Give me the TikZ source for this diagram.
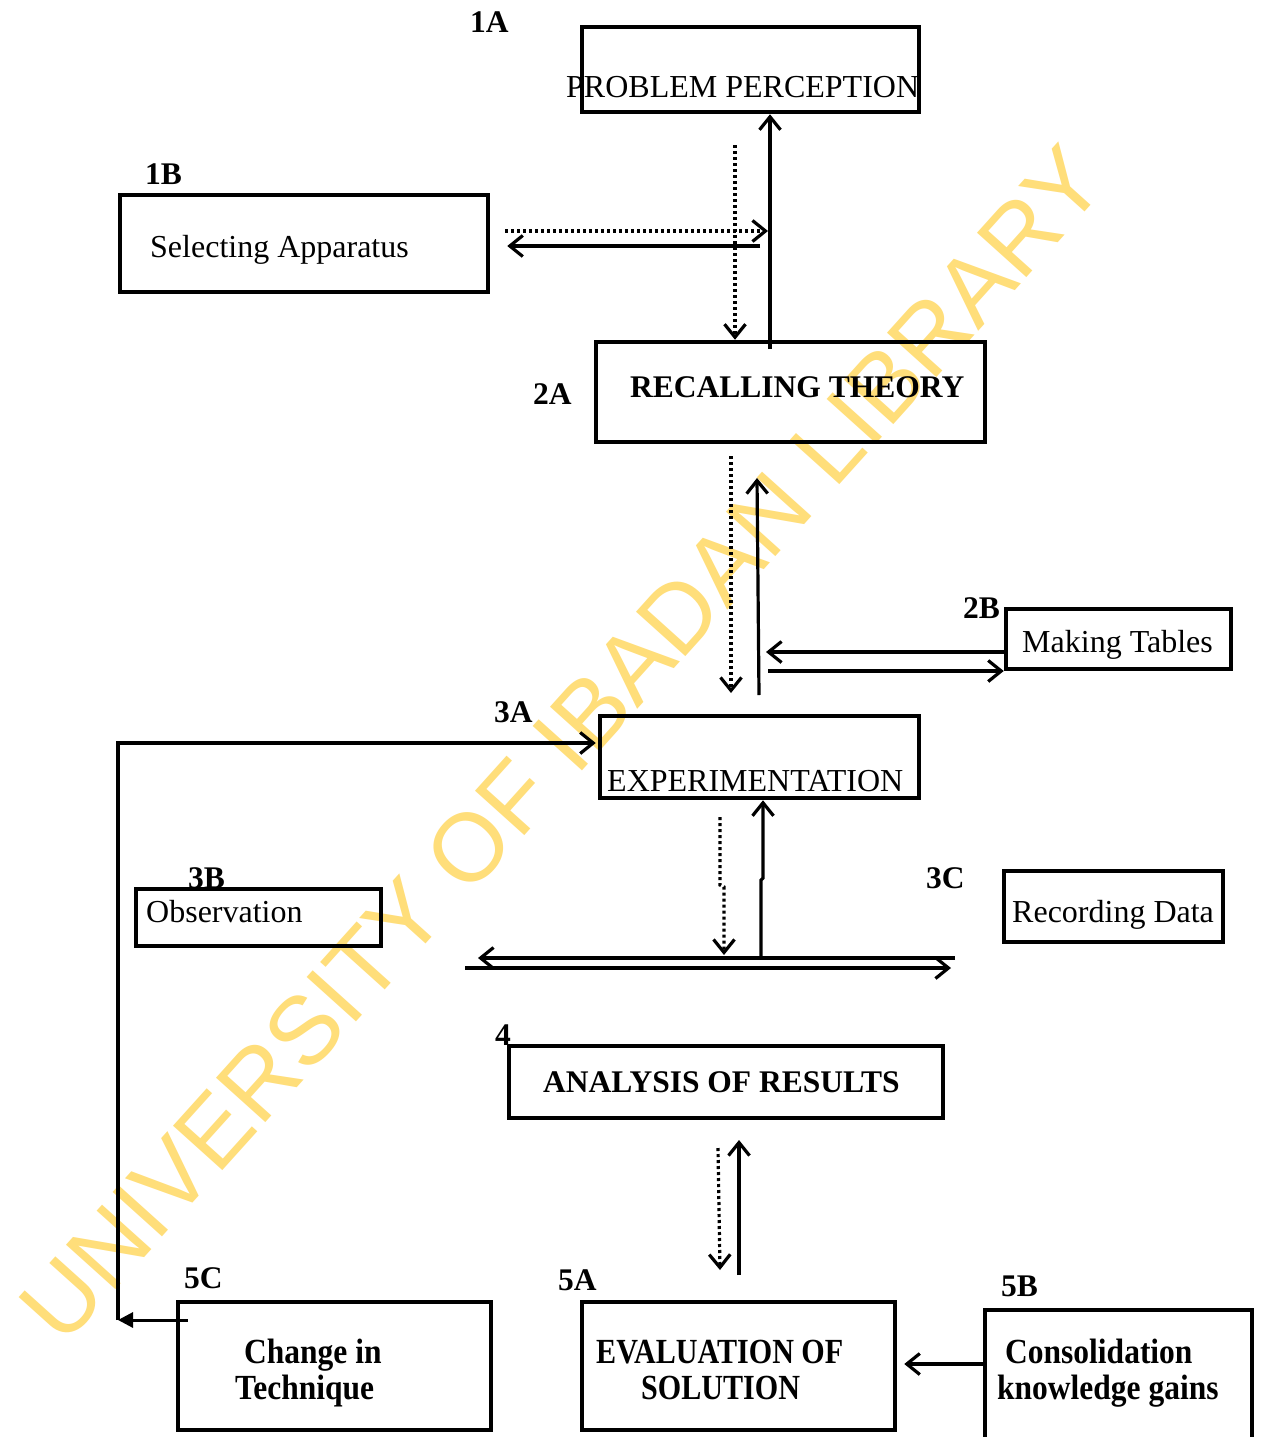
\documentclass[tikz,border=0pt]{standalone}
\usepackage{fontspec}
\usepackage{graphicx}
\setmainfont{Liberation Serif}
\newfontfamily\wmfont{Liberation Sans}
\usetikzlibrary{arrows.meta,calc}
\definecolor{wmcol}{RGB}{255,222,122}
\tikzset{
  box/.style={draw, line width=4.5pt, inner sep=0pt, rectangle},
  txt/.style={inner sep=0pt, anchor=base west, font=\fontsize{32}{38}\selectfont},
  btxt/.style={inner sep=0pt, anchor=base west, font=\fontsize{31.5}{38}\selectfont\bfseries},
  arr/.style={line width=3.2pt, -{Straight Barb[length=13pt,width=21pt]}},
  dotarr/.style={arr, dash pattern=on 3pt off 3pt},
  tri/.style={line width=3pt, -{Triangle[length=15pt,width=15pt]}},
}
\newcommand{\tallb}[1]{\scalebox{1}[1.12]{#1}}
\newcommand{\tallnb}[1]{\scalebox{0.955}[1.12]{#1}}
\begin{document}
\begin{tikzpicture}[x=1pt,y=-1pt]
\useasboundingbox (0,0) rectangle (1262,1437);
\clip (0,0) rectangle (1262,1437);
\fill[white] (0,0) rectangle (1262,1437);
% watermark
\node[rotate=48, inner sep=0pt, text=wmcol, font=\wmfont\fontsize{96.5}{96.5}\selectfont] (wm) at (562,744) {UNIVERSITY OF IBADAN LIBRARY};

% boxes
\node[box, minimum width=337pt, minimum height=85pt] (pp) at (750.5,69.5) {};
\node[box, minimum width=368pt, minimum height=97pt] (sa) at (304,243.5) {};
\node[box, minimum width=389pt, minimum height=100pt] (rt) at (790.5,392) {};
\node[box, minimum width=225pt, minimum height=60pt] (mt) at (1118.5,639) {};
\node[box, minimum width=319pt, minimum height=82pt] (ex) at (759.5,757) {};
\node[box, minimum width=245pt, minimum height=57pt] (ob) at (258.5,917.5) {};
\node[box, minimum width=219pt, minimum height=71pt] (rd) at (1113.5,906.5) {};
\node[box, minimum width=434pt, minimum height=72pt] (ar) at (726,1082) {};
\node[box, minimum width=313pt, minimum height=128pt] (ct) at (334.5,1366) {};
\node[box, minimum width=313pt, minimum height=128pt] (es) at (738.5,1366) {};
\node[box, minimum width=267pt, minimum height=160pt] (ck) at (1118.5,1390) {};

% box texts
\node[txt] (ppt) at (566,97) {PROBLEM PERCEPTION};
\node[txt] (sat) at (150,257) {Selecting Apparatus};
\node[btxt] (rtt) at (630,397) {RECALLING THEORY};
\node[txt] (mtt) at (1022,652) {Making Tables};
\node[txt] (ext) at (607,791) {EXPERIMENTATION};
\node[txt] (obt) at (146,922) {Observation};
\node[txt] (rdt) at (1012,922) {Recording Data};
\node[btxt] (art) at (543,1092) {ANALYSIS OF RESULTS};
\node[btxt] (ct1) at (244,1363) {\tallb{Change in}};
\node[btxt] (ct2) at (235,1399) {\tallb{Technique}};
\node[btxt] (es1) at (596,1363) {\tallnb{EVALUATION OF}};
\node[btxt] (es2) at (641,1399) {\tallnb{SOLUTION}};
\node[btxt] (ck1) at (1005,1363) {\tallb{Consolidation}};
\node[btxt] (ck2) at (997,1399) {\tallb{knowledge gains}};

% labels
\node[btxt] (l1a) at (470,33) {1A};
\node[btxt] (l1b) at (145,184) {1B};
\node[btxt] (l2a) at (533,404) {2A};
\node[btxt] (l2b) at (963,618) {2B};
\node[btxt] (l3a) at (494,722) {3A};
\node[btxt] (l3b) at (188,888) {3B};
\node[btxt] (l3c) at (926,888) {3C};
\node[btxt] (l4) at (495,1045) {4};
\node[btxt] (l5c) at (184,1288) {5C};
\node[btxt] (l5a) at (558,1290) {5A};
\node[btxt] (l5b) at (1001,1296) {5B};

% connectors 1A <-> 2A
\coordinate (c1) at (770,349);
\draw[arr] (c1) -- (c1 |- pp.south);
\coordinate (c2) at (735,145);
\draw[dotarr] (c2) -- (c2 |- rt.north);
% 1B
\coordinate (c3) at (768,231);
\draw[dotarr] ($(sa.east |- c3)+(15,0)$) -- (c3);
\coordinate (c4) at (760,246);
\draw[arr] (c4) -- ($(sa.east |- c4)+(17,0)$);
% 2A <-> 3A
\coordinate (c5a) at (731,456);
\coordinate (c5b) at (731,693);
\draw[dotarr] (c5a) -- (c5b);
\coordinate (c6a) at (759,695);
\coordinate (c6b) at (757,478);
\draw[arr] (c6a) -- (c6b);
% 2B
\coordinate (c7) at (766,652);
\draw[arr] (mt.west |- c7) -- (c7);
\coordinate (c8) at (768,671);
\draw[arr] (c8) -- (mt.west |- c8);
% loop 5C -> 3A
\coordinate (c9) at (118,1320);
\coordinate (c9t) at (118,743);
\draw[arr, line join=miter] (c9) -- (c9t) -- ($(ex.west |- c9t)+(-2,0)$);
\draw[tri] ($(ct.west |- c9)+(12,0)$) -- (c9);
% 3A <-> double line
\coordinate (c10a) at (720,817);
\coordinate (c10b) at (724,955);
\draw[dotarr] (c10a) -- (720,885) -- (724,887) -- (c10b);
\coordinate (c11a) at (761,958);
\coordinate (c11) at (763,878);
\draw[arr] (c11a) -- (761,880) -- (c11) -- (c11 |- ex.south);
\coordinate (h1a) at (955,958);
\coordinate (h1b) at (478,958);
\draw[arr] (h1a) -- (h1b);
\coordinate (h2a) at (465,968);
\coordinate (h2b) at (951,968);
\draw[arr] (h2a) -- (h2b);
% 4 <-> 5A
\coordinate (c13a) at (718,1148);
\coordinate (c13b) at (720,1270);
\draw[dotarr] (c13a) -- (c13b);
\coordinate (c14a) at (739,1275);
\coordinate (c14b) at (739,1140);
\draw[arr] (c14a) -- (c14b);
% 5B -> 5A
\coordinate (c15) at (0,1364);
\draw[arr] (ck.west |- c15) -- ($(es.east |- c15)+(7,0)$);
\end{tikzpicture}
\end{document}
